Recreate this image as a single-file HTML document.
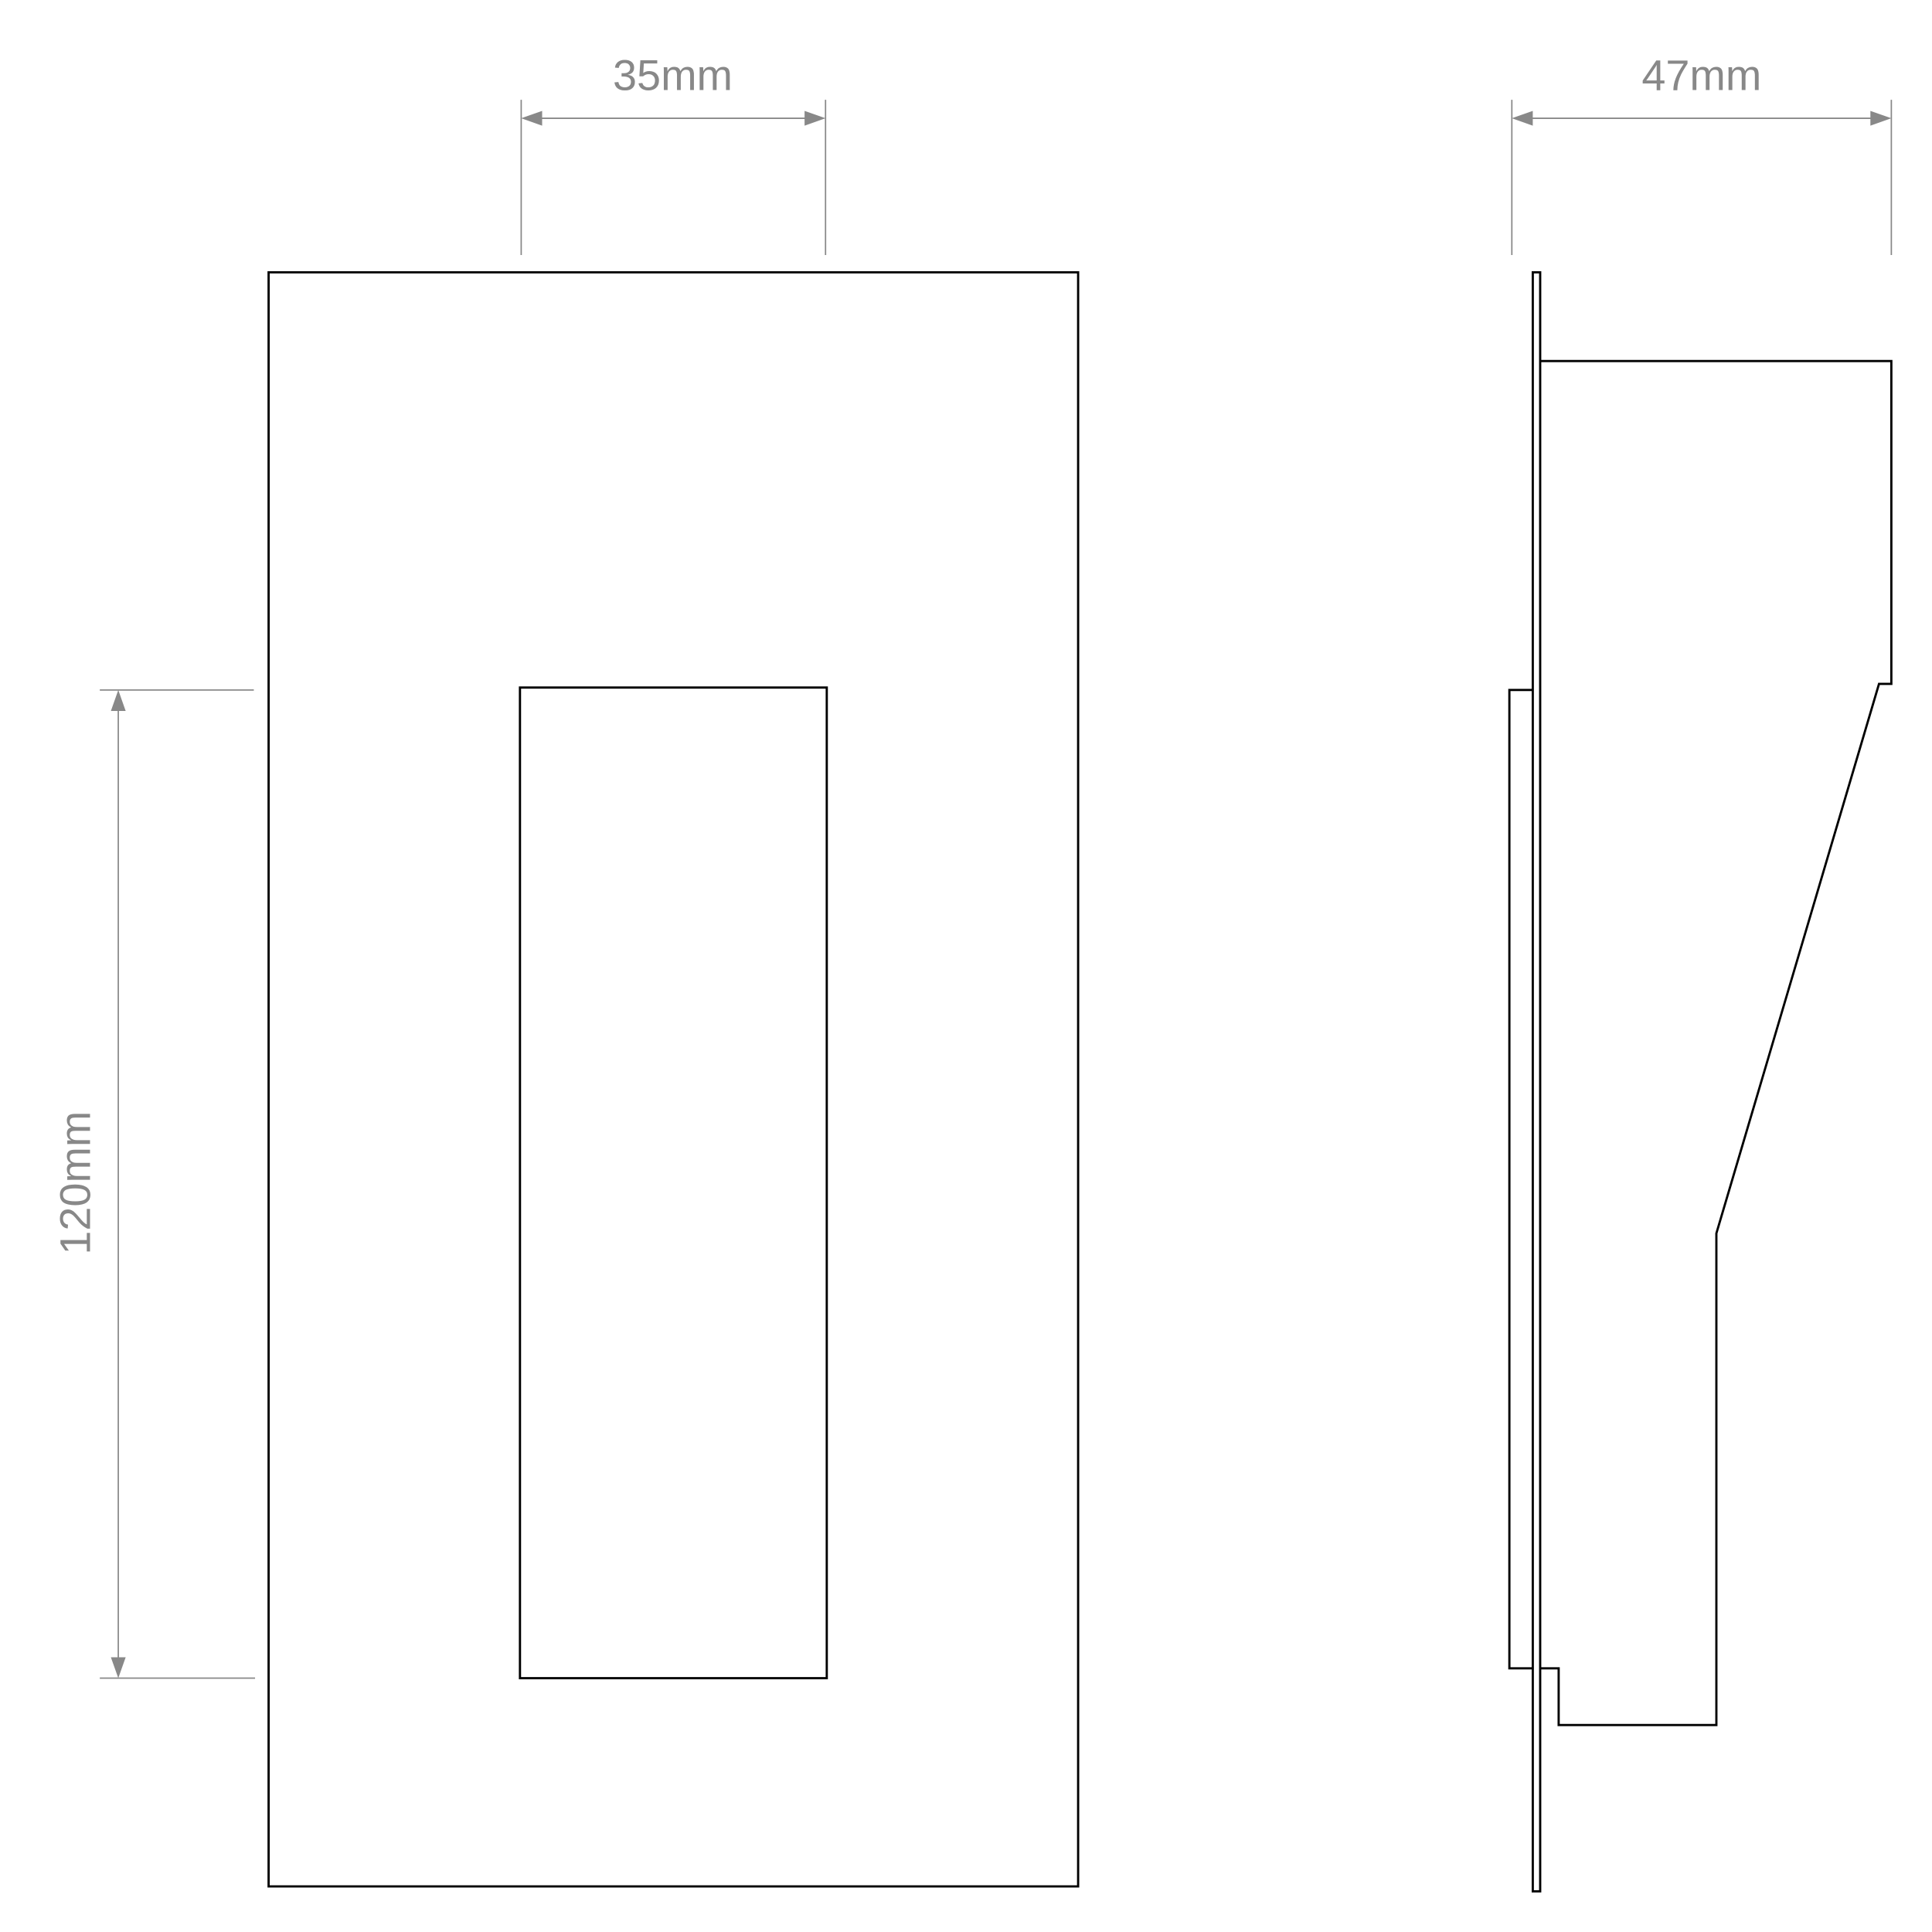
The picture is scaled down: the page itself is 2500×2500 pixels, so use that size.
<!DOCTYPE html>
<html><head><meta charset="utf-8"><style>
html,body{margin:0;padding:0;background:#fff;}
svg{display:block;}
</style></head><body>
<svg width="2500" height="2500" viewBox="0 0 1568 1568" xmlns="http://www.w3.org/2000/svg">
<rect width="1568" height="1568" fill="#fff"/>
<g fill="none" stroke="#000" stroke-width="1.8">
  <rect x="218" y="221" width="657" height="1310"/>
  <rect x="422" y="558" width="249" height="804"/>
  <rect x="1244" y="221" width="6" height="1314"/>
  <polyline points="1250,293 1535,293 1535,555 1525,555 1393,1001 1393,1400 1265,1400 1265,1354 1250,1354"/>
  <polyline points="1244,560 1225,560 1225,1354 1244,1354"/>
</g>
<g stroke="#888" stroke-width="1.1" fill="none">
  <line x1="423" y1="81" x2="423" y2="207"/>
  <line x1="670" y1="81" x2="670" y2="207"/>
  <line x1="438" y1="96" x2="655" y2="96"/>
  <line x1="1227" y1="81" x2="1227" y2="207"/>
  <line x1="1535" y1="81" x2="1535" y2="207"/>
  <line x1="1242" y1="96" x2="1520" y2="96"/>
  <line x1="81" y1="560" x2="206" y2="560"/>
  <line x1="81" y1="1362" x2="207" y2="1362"/>
  <line x1="96" y1="575" x2="96" y2="1347"/>
</g>
<g fill="#888">
  <polygon points="423,96 440,90 440,102"/>
  <polygon points="670,96 653,90 653,102"/>
  <polygon points="1227,96 1244,90 1244,102"/>
  <polygon points="1535,96 1518,90 1518,102"/>
  <polygon points="96,560 90,577 102,577"/>
  <polygon points="96,1362 90,1345 102,1345"/>
</g>
<g fill="#888" font-family="Liberation Sans, sans-serif" font-size="35">
  <text x="546" y="73" text-anchor="middle">35mm</text>
  <text x="1381" y="73" text-anchor="middle">47mm</text>
  <text x="0" y="0" text-anchor="middle" transform="translate(73,960) rotate(-90)">120mm</text>
</g>
</svg>
</body></html>
